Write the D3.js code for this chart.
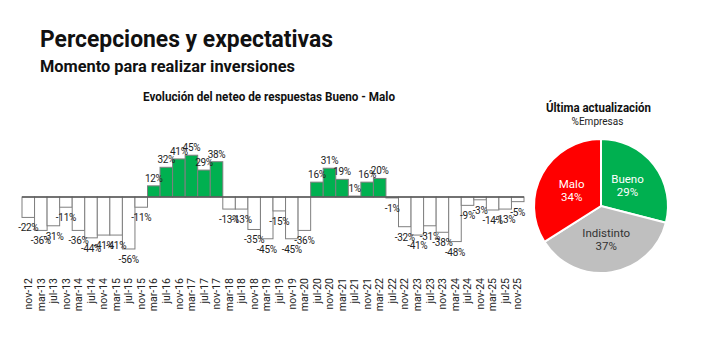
<!DOCTYPE html>
<html><head><meta charset="utf-8">
<script src="https://cdn.jsdelivr.net/npm/d3@7"></script>
<style>
html,body{margin:0;padding:0;background:#fff;}
svg{display:block;font-family:Roboto,"Noto Sans",sans-serif;}
</style></head>
<body><svg id="c" width="710" height="357"></svg>
<script>
const periods = ["nov-12","mar-13","jul-13","nov-13","mar-14","jul-14","nov-14","mar-15","jul-15","nov-15",
"mar-16","jul-16","nov-16","mar-17","jul-17","nov-17","mar-18","jul-18","nov-18","mar-19",
"jul-19","nov-19","mar-20","jul-20","nov-20","mar-21","jul-21","nov-21","mar-22","jul-22",
"nov-22","mar-23","jul-23","nov-23","mar-24","jul-24","nov-24","mar-25","jul-25","nov-25"];
const netValues = [-22,-36,-31,-11,-36,-44,-41,-41,-56,-11,
12,32,41,45,29,38,-13,-13,-35,-45,
-15,-45,-36,16,31,19,1,16,20,-1,
-32,-41,-31,-38,-48,-9,-3,-14,-13,-5];
const pieLabels = ["Bueno","Indistinto","Malo"];
const pieValues = [29,37,34];
const pieColors = ["#00b050","#bfbfbf","#ff0000"];

const svg = d3.select("#c");

// Titles
svg.append("text").attr("x",40).attr("y",47).attr("font-size",24).attr("font-weight",700)
  .attr("fill","#111").attr("textLength",293).attr("lengthAdjust","spacingAndGlyphs")
  .text("Percepciones y expectativas");
svg.append("text").attr("x",40).attr("y",72).attr("font-size",16).attr("font-weight",700)
  .attr("fill","#111").attr("textLength",255).attr("lengthAdjust","spacingAndGlyphs")
  .text("Momento para realizar inversiones");
svg.append("text").attr("x",143).attr("y",101).attr("font-size",13).attr("font-weight",700)
  .attr("fill","#111").attr("textLength",252).attr("lengthAdjust","spacingAndGlyphs")
  .text("Evolución del neteo de respuestas Bueno - Malo");

// Bar chart
const x = d3.scaleBand().domain(periods).range([22,524]).padding(0);
const y = d3.scaleLinear().domain([-60,60]).range([252.7,141.3]);

const g = svg.append("g");
g.selectAll("rect.bar").data(netValues).join("rect").attr("class","bar")
  .attr("x",(d,i)=>x(periods[i]))
  .attr("width",x.bandwidth())
  .attr("y",d=>Math.min(y(d),y(0)))
  .attr("height",d=>Math.abs(y(d)-y(0)))
  .attr("fill",d=>d>0?"#00b050":"#fff")
  .attr("stroke","#7f7f7f").attr("stroke-width",1);

g.append("line").attr("x1",22).attr("x2",524).attr("y1",y(0)).attr("y2",y(0))
  .attr("stroke","#595959").attr("stroke-width",1.5);

g.selectAll("text.val").data(netValues).join("text").attr("class","val")
  .attr("x",(d,i)=>x(periods[i])+x.bandwidth()/2)
  .attr("y",d=>d>=0?y(d)-4:y(d)+14)
  .attr("text-anchor","middle").attr("font-size",10).attr("letter-spacing",-0.3)
  .attr("fill","#222").text(d=>d+"%");

const xAxis = d3.axisBottom(x).tickSize(0).tickPadding(0);
const ax = svg.append("g").attr("transform","translate(0,278)").call(xAxis);
ax.select(".domain").remove();
ax.selectAll("text").attr("transform","rotate(-90)").attr("text-anchor","end")
  .attr("x",0).attr("y",0).attr("dy","0.35em")
  .attr("font-size",10.5).attr("font-family","Roboto,sans-serif").attr("fill","#222");

// Pie
svg.append("text").attr("x",598.5).attr("y",112).attr("text-anchor","middle")
  .attr("font-size",13).attr("font-weight",700).attr("fill","#111")
  .attr("textLength",105).attr("lengthAdjust","spacingAndGlyphs").text("Última actualización");
svg.append("text").attr("x",597.5).attr("y",125).attr("text-anchor","middle")
  .attr("font-size",10).attr("fill","#222").text("%Empresas");

const pie = d3.pie().sort(null).value(d=>d);
const arcs = pie(pieValues);
const r = 67;
const arc = d3.arc().innerRadius(0).outerRadius(r);
const pg = svg.append("g").attr("transform","translate(601,206)");
pg.selectAll("path").data(arcs).join("path").attr("d",arc)
  .attr("fill",(d,i)=>pieColors[i]).attr("stroke","#fff").attr("stroke-width",2);
const lab = pg.selectAll("g.lab").data(arcs).join("g").attr("class","lab")
  .attr("transform",d=>`translate(${arc.centroid(d)})`);
lab.append("text").attr("text-anchor","middle").attr("y",-2).attr("font-size",11.5)
  .attr("fill",(d,i)=>i===1?"#333":"#fff").text((d,i)=>pieLabels[i]);
lab.append("text").attr("text-anchor","middle").attr("y",11).attr("font-size",11.5)
  .attr("fill",(d,i)=>i===1?"#333":"#fff").text((d,i)=>pieValues[i]+"%");
</script></body></html>
